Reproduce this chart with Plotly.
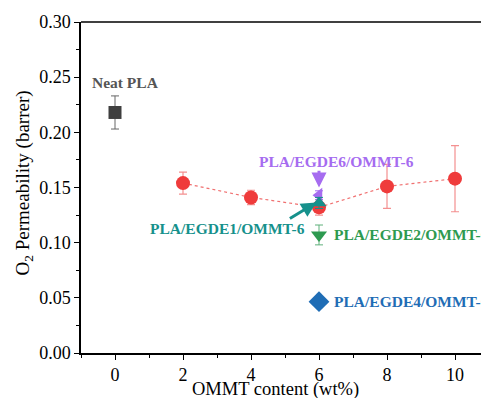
import plotly.graph_objects as go

# Data
neat_x = [0]
neat_y = [0.218]
neat_err = [0.015]

ommt_x = [2, 4, 6, 8, 10]
ommt_y = [0.154, 0.141, 0.132, 0.151, 0.158]
ommt_err = [0.010, 0.0065, 0.007, 0.020, 0.030]

egde6_x, egde6_y, egde6_err = [6], [0.143], [0.004]
egde1_x, egde1_y, egde1_err = [6], [0.136], [0.005]
egde2_x, egde2_y, egde2_err = [6], [0.107], [0.009]
egde4_x, egde4_y, egde4_err = [6], [0.0465], [0.002]

x_ticks = [0, 2, 4, 6, 8, 10]
y_ticks = [0.00, 0.05, 0.10, 0.15, 0.20, 0.25, 0.30]

FONT = "Liberation Serif, Times New Roman, serif"
AF = 15.5

fig = go.Figure()

fig.add_trace(go.Scatter(
    x=neat_x, y=neat_y, mode="markers",
    marker=dict(symbol="square", size=13, color="#3f3f3f"),
    error_y=dict(type="data", array=neat_err, color="#666666", thickness=1, width=4),
))
fig.add_trace(go.Scatter(
    x=ommt_x, y=ommt_y, mode="lines+markers",
    line=dict(color="#f07070", width=1.2, dash="dot"),
    marker=dict(symbol="circle", size=14, color="#ef3b3b"),
    error_y=dict(type="data", array=ommt_err, color="#f49090", thickness=1.2, width=4),
))
fig.add_trace(go.Scatter(
    x=egde6_x, y=egde6_y, mode="markers",
    marker=dict(symbol="triangle-left", size=13, color="#a66cf0"),
    error_y=dict(type="data", array=egde6_err, color="#a66cf0", thickness=1, width=4),
))
fig.add_trace(go.Scatter(
    x=egde1_x, y=egde1_y, mode="markers",
    marker=dict(symbol="triangle-up", size=13, color="#16918c"),
    error_y=dict(type="data", array=egde1_err, color="#16918c", thickness=1, width=4),
))
fig.add_trace(go.Scatter(
    x=egde2_x, y=egde2_y, mode="markers",
    marker=dict(symbol="triangle-down", size=14, color="#2e9a50"),
    error_y=dict(type="data", array=egde2_err, color="#5fb07a", thickness=1, width=4),
))
fig.add_trace(go.Scatter(
    x=egde4_x, y=egde4_y, mode="markers",
    marker=dict(symbol="diamond", size=16, color="#1f6db5"),
))

annotations = [
    dict(x=0.3, y=0.2455, text="<b>Neat PLA</b>", showarrow=False,
         font=dict(family=FONT, size=AF, color="#555555")),
    dict(x=6.52, y=0.1735, text="<b>PLA/EGDE6/OMMT-6</b>", showarrow=False,
         font=dict(family=FONT, size=AF, color="#a66cf0")),
    dict(x=3.3, y=0.1125, text="<b>PLA/EGDE1/OMMT-6</b>", showarrow=False,
         font=dict(family=FONT, size=AF, color="#16918c")),
    dict(x=6.38, y=0.107, text="<b>PLA/EGDE2/OMMT-6</b>", showarrow=False, xanchor="left",
         font=dict(family=FONT, size=AF, color="#2e9a50")),
    dict(x=6.38, y=0.0465, text="<b>PLA/EGDE4/OMMT-6</b>", showarrow=False, xanchor="left",
         font=dict(family=FONT, size=AF, color="#1f6db5")),
    # arrows
    dict(x=6, y=0.150, ax=6, ay=0.1665, xref="x", yref="y", axref="x", ayref="y",
         text="", showarrow=True, arrowhead=2, arrowsize=1, arrowwidth=3, arrowcolor="#a66cf0"),
    dict(x=5.92, y=0.1365, ax=5.1, ay=0.121, xref="x", yref="y", axref="x", ayref="y",
         text="", showarrow=True, arrowhead=2, arrowsize=1, arrowwidth=3, arrowcolor="#16918c"),
    # axis titles
    dict(x=4.73, y=-0.109, xref="x", yref="paper", text="OMMT content (wt%)", showarrow=False,
         xanchor="center", yanchor="middle",
         font=dict(family=FONT, size=18.5, color="black")),
    dict(x=-0.14, y=0.515, xref="paper", yref="paper", text="O<sub>2</sub> Permeability (barrer)",
         showarrow=False, textangle=-90, xanchor="center", yanchor="middle",
         font=dict(family=FONT, size=19, color="black")),
]

# page body has an 8px margin, so the figure is sized/offset to place the plot area
fig.update_layout(
    width=481, height=390,
    margin=dict(l=73, r=0, t=14, b=45),
    paper_bgcolor="white", plot_bgcolor="white",
    showlegend=False,
    font=dict(family=FONT, size=18, color="black"),
    annotations=annotations,
    shapes=[dict(type="line", xref="paper", yref="paper", x0=0, x1=1, y0=1, y1=1,
                 line=dict(color="black", width=1.5))],
)
fig.update_xaxes(
    range=[-1, 11], tickvals=x_ticks, ticks="outside", ticklen=5, tickwidth=1.2,
    tickcolor="black", showline=True, linecolor="black", linewidth=1.5,
    showgrid=False, zeroline=False,
    minor=dict(tickvals=[-1, 1, 3, 5, 7, 9, 11], ticks="outside", ticklen=3, tickcolor="black", tickwidth=1),
    tickfont=dict(family=FONT, size=18),
)
fig.update_yaxes(
    range=[0, 0.30], tickvals=y_ticks, tickformat=".2f", ticks="outside", ticklen=5, tickwidth=1.2,
    tickcolor="black", showline=True, linecolor="black", linewidth=1.5,
    showgrid=False, zeroline=False,
    minor=dict(tickvals=[0.025, 0.075, 0.125, 0.175, 0.225, 0.275], ticks="outside", ticklen=3, tickcolor="black", tickwidth=1),
    tickfont=dict(family=FONT, size=18),
)

fig.write_html("out.html")
